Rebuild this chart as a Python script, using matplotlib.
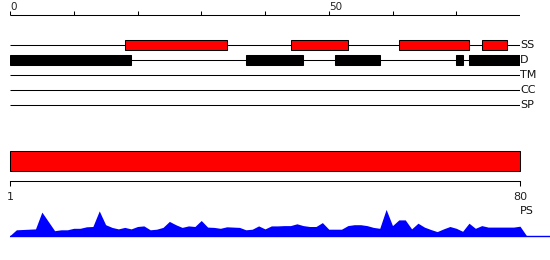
import numpy as np
import matplotlib
matplotlib.use("Agg")
import matplotlib.pyplot as plt
from matplotlib.patches import Rectangle

plt.rcParams['font.family'] = ['DejaVu Sans']

# ---------------- data ----------------
SEQ_LEN = 80
TRACKS = ['SS', 'D', 'TM', 'CC', 'SP']
SS_STARTS = [18, 44, 61, 74]
SS_ENDS = [34, 53, 72, 78]
D_STARTS = [0, 37, 51, 70, 72]
D_ENDS = [19, 46, 58, 71, 80]
TOP_TICKS = [0, 50]
TOP_TICK_LABELS = ['0', '50']
BAR_RANGE = [1, 80]
BAR_TICK_LABELS = ['1', '80']
PS_LABEL = 'PS'
PS_SCORES = [
    0.19, 0.20, 0.21, 0.22, 0.78, 0.47, 0.16, 0.19, 0.19, 0.24,
    0.24, 0.29, 0.30, 0.82, 0.36, 0.27, 0.22, 0.27, 0.22, 0.30,
    0.32, 0.19, 0.21, 0.27, 0.47, 0.36, 0.27, 0.32, 0.30, 0.50,
    0.28, 0.27, 0.24, 0.29, 0.28, 0.27, 0.19, 0.21, 0.32, 0.22,
    0.32, 0.32, 0.33, 0.33, 0.39, 0.33, 0.30, 0.30, 0.43, 0.21,
    0.21, 0.21, 0.33, 0.36, 0.36, 0.33, 0.27, 0.24, 0.87, 0.33,
    0.52, 0.52, 0.22, 0.41, 0.28, 0.20, 0.13, 0.22, 0.30, 0.24,
    0.14, 0.41, 0.24, 0.33, 0.28, 0.28, 0.28, 0.28, 0.28, 0.31,
]

W, H = 550, 260
fig = plt.figure(figsize=(W / 100, H / 100), dpi=100)
LW = 0.75


def rect(l, t, r, b):
    return [l / W, (H - b) / H, (r - l) / W, (b - t) / H]


# ---------------- top: ruler + feature tracks ----------------
ax = fig.add_axes(rect(10, 0, 520, 120))
ax.set_xlim(0, SEQ_LEN)
ax.set_ylim(6, -2)
ax.axis('off')

ruler_y = -1
ax.hlines(ruler_y, 0, SEQ_LEN, color='black', lw=LW)
for t in np.arange(0, SEQ_LEN, 10):
    ax.vlines(t, ruler_y - 0.29, ruler_y, color='black', lw=LW)
for t, lab in zip(TOP_TICKS, TOP_TICK_LABELS):
    ax.text(t, ruler_y - 0.3, lab, ha='left', va='baseline', fontsize=7.5,
            color='#222222')

box_h = 0.71
for i, name in enumerate(TRACKS):
    y = i + 1
    ax.hlines(y, 0, SEQ_LEN, color='black', lw=LW, zorder=1)
    ax.text(SEQ_LEN, y, name, ha='left', va='center', fontsize=8,
            color='#111111', clip_on=False)

for s, e in zip(SS_STARTS, SS_ENDS):
    ax.add_patch(Rectangle((s, 1 - box_h / 2), e - s, box_h,
                           facecolor='#ff0000', edgecolor='black', lw=LW,
                           zorder=2))
for s, e in zip(D_STARTS, D_ENDS):
    ax.add_patch(Rectangle((s, 2 - box_h / 2), e - s, box_h,
                           facecolor='black', edgecolor='black', lw=LW,
                           zorder=2))

# ---------------- middle: full-length bar + ruler ----------------
axm = fig.add_axes(rect(10, 140, 520, 181))
axm.set_xlim(BAR_RANGE[0], BAR_RANGE[1])
axm.set_ylim(0, 1)
axm.add_patch(Rectangle((BAR_RANGE[0], 0.25), BAR_RANGE[1] - BAR_RANGE[0],
                        0.49, facecolor='#ff0000', edgecolor='black', lw=LW,
                        clip_on=False))
for sp in ['top', 'left', 'right']:
    axm.spines[sp].set_visible(False)
axm.spines['bottom'].set_linewidth(LW)
axm.set_yticks([])
axm.set_xticks(BAR_RANGE)
axm.set_xticklabels(BAR_TICK_LABELS)
axm.tick_params(axis='x', direction='out', length=3.6, width=LW, pad=4.5,
                labelsize=8, labelcolor='#222222')
axm.patch.set_visible(False)

# ---------------- bottom: PS profile ----------------
axp = fig.add_axes(rect(10, 200, 550, 240))
axp.set_xlim(0, SEQ_LEN * 540 / 510)
axp.set_ylim(-4.5 / 30, 1 + 5.5 / 30)
axp.axis('off')
xs = np.arange(0, SEQ_LEN + 2)
ys = np.concatenate([[0], PS_SCORES, [0]])
axp.fill_between(xs, ys, 0, color='#0000ff', lw=0)
axp.axhline(0, color='#0000ff', lw=1.0)
axp.text(SEQ_LEN, 0.82, PS_LABEL, ha='left', va='center', fontsize=8,
         color='#111111', clip_on=False)

fig.savefig('out.png', dpi=100)
